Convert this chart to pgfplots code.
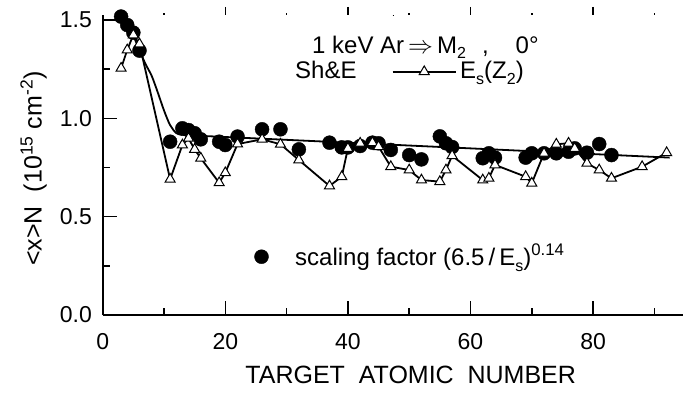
\documentclass[border=0pt]{standalone}
\usepackage{fontspec}
\setmainfont{Liberation Sans}
\usepackage{pgfplots}
\pgfplotsset{compat=1.18}
\newcommand\sub[1]{\raisebox{-6pt}{\fontsize{16}{16}\selectfont #1}}
\newcommand\subb[1]{\raisebox{-4.5pt}{\fontsize{16}{16}\selectfont #1}}
\pgfplotsset{
  circlegend/.style={legend image code/.code={\draw[##1] plot coordinates {(0pt,0pt)};}},
  trilegend/.style={legend image code/.code={\draw[##1, mark repeat=2, mark phase=2] plot coordinates {(0pt,0pt) (31.65pt,0pt) (63.3pt,0pt)};}},
}
\pgfplotstableread{
z y
3 1.517
4 1.474
5 1.435
6 1.344
11 0.881
13 0.949
14 0.940
15 0.924
16 0.893
19 0.881
20 0.864
22 0.907
26 0.944
29 0.944
32 0.842
37 0.876
39 0.852
40 0.852
42 0.859
44 0.876
45 0.873
47 0.839
50 0.813
52 0.791
55 0.908
56 0.873
57 0.854
62 0.797
63 0.822
64 0.800
69 0.800
70 0.822
72 0.822
74 0.822
76 0.830
77 0.847
79 0.825
81 0.869
83 0.813
}\circles
\pgfplotstableread{
z y
3 1.254
4 1.347
5 1.424
6 1.378
11 0.690
13 0.864
14 0.898
15 0.842
16 0.797
19 0.672
20 0.723
22 0.869
26 0.893
29 0.868
32 0.788
37 0.656
39 0.703
40 0.847
42 0.873
44 0.876
45 0.856
47 0.754
50 0.737
52 0.686
55 0.678
56 0.737
57 0.810
62 0.686
63 0.695
64 0.763
69 0.703
70 0.670
72 0.822
74 0.868
76 0.873
77 0.847
79 0.771
81 0.737
83 0.695
88 0.754
92 0.825
}\triangles
\pgfplotstableread{
z y
3 1.530
4 1.480
5 1.420
6 1.345
7 1.275
8 1.215
9 1.130
10 1.040
11 0.965
12 0.925
13 0.915
}\fitcurve
\pgfplotstableread{
z y
13 0.915
92.5 0.800
}\fitline
\begin{document}
\begin{tikzpicture}
\begin{axis}[
  at={(0pt,0pt)}, anchor=south west,
  scale only axis, width=580.3pt, height=300pt,
  xmin=0, xmax=94.67, ymin=0, ymax=1.525,
  axis x line*=bottom, axis y line*=left,
  axis line style={line width=1.8pt, -},
  tick align=inside,
  major tick length=14pt, minor tick length=7pt,
  every tick/.style={line width=1.5pt, black},
  xtick={0,20,40,60,80}, minor xtick={10,30,50,70,90},
  ytick={0,0.5,1,1.5}, minor ytick={0.25,0.75,1.25},
  /pgf/number format/assume math mode=true,
  yticklabel style={/pgf/number format/fixed, /pgf/number format/fixed zerofill, /pgf/number format/precision=1, inner sep=0pt, xshift=-10.7pt},
  ticklabel style={font=\fontsize{23}{26}\selectfont},
  xticklabel style={inner sep=0pt, yshift=-18pt},
  clip=false,
  legend style={at={(axis description cs:0.2616,0.1943)}, anchor=west, draw=none, fill=none, inner sep=0pt, outer sep=0pt, nodes={inner sep=0pt}},
]
\addplot[black, line width=1.8pt, smooth, forget plot] table {\fitcurve};
\addplot[black, line width=1.8pt, forget plot] table {\fitline};
\addplot[only marks, mark=*, mark size=7pt, black, circlegend] table {\circles};
\addlegendentry{}
\addplot[black, line width=1.8pt, mark=triangle*, mark size=5.8pt, mark options={fill=white, line width=1pt}, forget plot] table {\triangles};
\end{axis}
\begin{axis}[
  at={(0pt,0pt)}, anchor=south west,
  scale only axis, width=580.3pt, height=300pt,
  xmin=0, xmax=94.67, ymin=0, ymax=1.525,
  axis x line*=top, axis y line=none,
  x axis line style={-, line width=0.1pt, shorten <=290pt, shorten >=290pt},
  xtick={20,40,60,80}, minor xtick={10,30,50,70,90},
  xticklabels={},
  tick align=outside,
  major tick length=8pt, minor tick length=1.5pt,
  every tick/.style={draw=black, line width=1.5pt},
  legend style={at={(axis description cs:0.498,0.8158)}, anchor=west, draw=none, fill=none, inner sep=0pt, outer sep=0pt, nodes={inner sep=0pt}},
]
\addlegendimage{black, line width=1.8pt, mark=triangle*, mark size=5.8pt, mark options={fill=white, line width=1pt}, trilegend}
\addlegendentry{}
\end{axis}
\node[anchor=base, font=\fontsize{25}{28}\selectfont] at (308pt,-68.3pt) {TARGET\ \ ATOMIC\ \ NUMBER};
\node[anchor=base, rotate=90, font=\fontsize{25}{28}\selectfont] at (-61pt,146.5pt) {<x>N\ \ (10\textsuperscript{15} cm\textsuperscript{-2})};
\node[anchor=base west, inner sep=0pt, font=\fontsize{24}{27}\selectfont] at (209.3pt,261pt) {1 keV Ar\hspace{4pt}$\Rightarrow$\hspace{4pt}M\subb{2}\hspace{16pt},\hspace{27pt}0°};
\node[anchor=base west, inner sep=0pt, font=\fontsize{24}{27}\selectfont] at (192.3pt,236pt) {Sh\&E};
\node[anchor=base west, inner sep=0pt, font=\fontsize{24}{27}\selectfont] at (357.3pt,236pt) {E\sub{s}(Z\sub{2})};
\node[anchor=base west, inner sep=0pt, font=\fontsize{24}{27}\selectfont] at (192.3pt,50pt) {scaling factor (6.5\,/\,E\sub{s})\textsuperscript{0.14}};
\pgfresetboundingbox
\useasboundingbox (-102.7pt,-79pt) rectangle (580.3pt,315pt);
\end{tikzpicture}
\end{document}
